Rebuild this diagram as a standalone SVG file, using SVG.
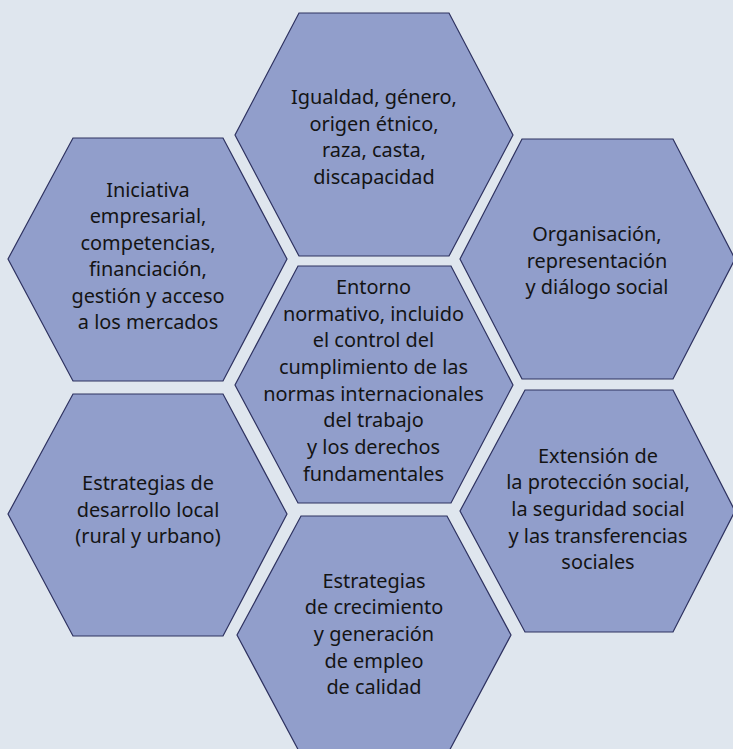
<svg xmlns="http://www.w3.org/2000/svg" width="733" height="749" viewBox="0 0 733 749">
<style>
.bg{fill:#dfe6ee}
.hex{fill:#919ecb;stroke:#2e3260;stroke-width:1.2}
.t{font-family:"Noto Sans","Open Sans","DejaVu Sans",sans-serif;font-size:19.9px;fill:#141414;text-anchor:middle}
</style>
<rect class="bg" x="0" y="0" width="733" height="749"/>
<g id="connectors"></g>
<g id="n-top">
<polygon class="hex" points="299,13 449,13 513,135 449,256 299,256 235,135"/>
<text class="t"><tspan x="374" y="104">Igualdad, género,</tspan><tspan x="374" y="130.5">origen étnico,</tspan><tspan x="374" y="157">raza, casta,</tspan><tspan x="374" y="183.5">discapacidad</tspan></text>
</g>
<g id="n-lefttop">
<polygon class="hex" points="73,138 223,138 287,259 223,381 73,381 8,259"/>
<text class="t"><tspan x="148" y="196.5">Iniciativa</tspan><tspan x="148" y="223">empresarial,</tspan><tspan x="148" y="249.5">competencias,</tspan><tspan x="148" y="276">financiación,</tspan><tspan x="148" y="302.5">gestión y acceso</tspan><tspan x="148" y="329">a los mercados</tspan></text>
</g>
<g id="n-righttop">
<polygon class="hex" points="522,139 673,139 735,259 673,379 522,379 460,259"/>
<text class="t"><tspan x="597" y="241">Organisación,</tspan><tspan x="597" y="267.5">representación</tspan><tspan x="597" y="294">y diálogo social</tspan></text>
</g>
<g id="n-center">
<polygon class="hex" points="298,266 451,266 513,385 451,503 298,503 235,385"/>
<text class="t"><tspan x="373.5" y="294">Entorno</tspan><tspan x="373.5" y="320.5">normativo, incluido</tspan><tspan x="373.5" y="347">el control del</tspan><tspan x="373.5" y="374">cumplimiento de las</tspan><tspan x="373.5" y="400.5">normas internacionales</tspan><tspan x="373.5" y="427">del trabajo</tspan><tspan x="373.5" y="454">y los derechos</tspan><tspan x="373.5" y="480.5">fundamentales</tspan></text>
</g>
<g id="n-leftbottom">
<polygon class="hex" points="73,394 223,394 287,514 223,636 73,636 8,514"/>
<text class="t"><tspan x="148" y="490">Estrategias de</tspan><tspan x="148" y="516.5">desarrollo local</tspan><tspan x="148" y="543">(rural y urbano)</tspan></text>
</g>
<g id="n-rightbottom">
<polygon class="hex" points="525,390 673,390 735,511 673,632 525,632 460,511"/>
<text class="t"><tspan x="598" y="462.5">Extensión de</tspan><tspan x="598" y="489">la protección social,</tspan><tspan x="598" y="516">la seguridad social</tspan><tspan x="598" y="542.5">y las transferencias</tspan><tspan x="598" y="569">sociales</tspan></text>
</g>
<g id="n-bottom">
<polygon class="hex" points="301,516 447,516 511,635 447,755 301,755 237,635"/>
<text class="t"><tspan x="374" y="587.5">Estrategias</tspan><tspan x="374" y="614">de crecimiento</tspan><tspan x="374" y="641">y generación</tspan><tspan x="374" y="667.5">de empleo</tspan><tspan x="374" y="694">de calidad</tspan></text>
</g>
</svg>
